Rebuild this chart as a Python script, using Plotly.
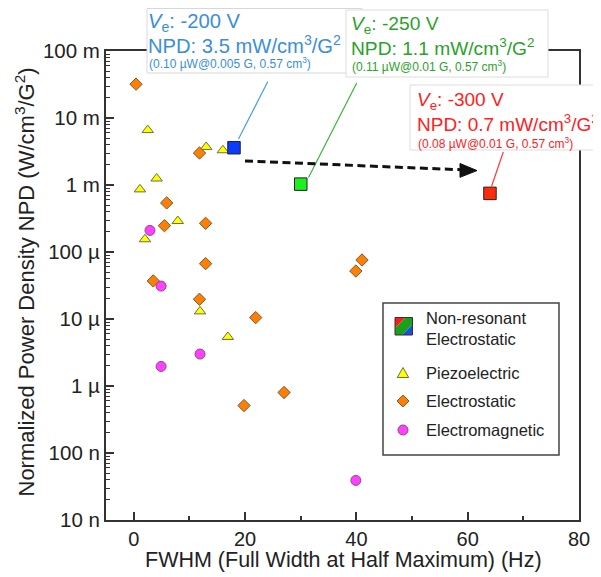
import plotly.graph_objects as go

# ---------------- data ----------------
piezo_x = [2.5, 13.0, 16.0, 4.1, 1.1, 7.9, 2.0, 11.9, 16.9]
piezo_y = [6.6e-3, 3.7e-3, 3.3e-3, 1.25e-3, 8.6e-4, 2.9e-4, 1.55e-4, 1.3e-5, 5.4e-6]

estat_x = [0.4, 5.9, 11.8, 5.5, 12.9, 12.9, 3.5, 11.8, 21.9, 27.0, 19.8, 41.0, 39.9]
estat_y = [3.2e-2, 5.4e-4, 3.0e-3, 2.47e-4, 2.68e-4, 6.7e-5, 3.7e-5, 1.97e-5, 1.05e-5,
           8.0e-7, 5.1e-7, 7.6e-5, 5.2e-5]

emag_x = [2.9, 4.9, 11.9, 4.9, 39.9]
emag_y = [2.1e-4, 3.1e-5, 3.0e-6, 1.96e-6, 3.9e-8]

nonres_x = [18.0, 30.0, 64.0]
nonres_y = [3.6e-3, 1.03e-3, 7.5e-4]
nonres_colors = ["#0A3CFF", "#1EF01E", "#FF2A0A"]

ytick_vals = [1e-8, 1e-7, 1e-6, 1e-5, 1e-4, 1e-3, 1e-2, 1e-1]
ytick_text = ["10 n", "100 n", "1 µ", "10 µ", "100 µ", "1 m", "10 m", "100 m"]
xtick_vals = [0, 20, 40, 60, 80]
xminor_vals = [10, 30, 50, 70]

legend_labels = ["Non-resonant<br>Electrostatic", "Piezoelectric", "Electrostatic", "Electromagnetic"]

x_title = "FWHM (Full Width at Half Maximum) (Hz)"
y_title = "Normalized Power Density NPD (W/cm<sup>3</sup>/G<sup>2</sup>)"

# ---------------- layout geometry (window pixels) ----------------
WIN_W, WIN_H = 601, 577
OFF = 8                      # default page margin around the plot div
FW, FH = WIN_W - OFF, WIN_H - OFF
L, R, T, B = 106, 579, 51, 520
PW, PH = R - L, B - T


def px(x):
    return (x - L) / PW


def py(y):
    return (B - y) / PH


def path(points):
    s = "M " + " L ".join(f"{px(a):.5f},{py(b):.5f}" for a, b in points) + " Z"
    return s


FONT = "Liberation Sans, Arial, Helvetica, sans-serif"
TXT = "#222222"

fig = go.Figure()

fig.add_trace(go.Scatter(
    x=piezo_x, y=piezo_y, mode="markers", name="Piezoelectric",
    marker=dict(symbol="triangle-up", size=10, color="#FFFF00",
                line=dict(color="#6E6E40", width=1)),
    showlegend=False))
fig.add_trace(go.Scatter(
    x=estat_x, y=estat_y, mode="markers", name="Electrostatic",
    marker=dict(symbol="diamond", size=9.5, color="#FF7F00",
                line=dict(color="#7A5A3A", width=1)),
    showlegend=False))
fig.add_trace(go.Scatter(
    x=emag_x, y=emag_y, mode="markers", name="Electromagnetic",
    marker=dict(symbol="circle", size=10, color="#FF40FF",
                line=dict(color="#8A4A8A", width=1)),
    showlegend=False))
fig.add_trace(go.Scatter(
    x=nonres_x, y=nonres_y, mode="markers", name="Non-resonant Electrostatic",
    marker=dict(symbol="square", size=12.5, color=nonres_colors,
                line=dict(color="#222222", width=1)),
    showlegend=False))

shapes = []
annotations = []

# leader lines
shapes.append(dict(type="line", xref="paper", yref="paper",
                   x0=px(267.7), y0=py(81.7), x1=px(238.5), y1=py(139),
                   line=dict(color="#4A9FE0", width=1.2), layer="above"))
shapes.append(dict(type="line", xref="paper", yref="paper",
                   x0=px(356.7), y0=py(83), x1=px(308.5), y1=py(177.5),
                   line=dict(color="#3DB23D", width=1.2), layer="above"))
shapes.append(dict(type="line", xref="paper", yref="paper",
                   x0=px(503.3), y0=py(152), x1=px(491.5), y1=py(186.5),
                   line=dict(color="#FF3A3A", width=1.2), layer="above"))

# dashed arrow
shapes.append(dict(type="line", xref="paper", yref="paper",
                   x0=px(245), y0=py(161), x1=px(462), y1=py(169.8),
                   line=dict(color="#111111", width=3, dash="8px,4.5px"), layer="above"))
shapes.append(dict(type="path", xref="paper", yref="paper",
                   path=path([(477, 170.6), (460, 163.5), (460, 177.3)]),
                   fillcolor="#111111", line=dict(color="#111111", width=1), layer="above"))

# annotation boxes
shapes.append(dict(type="rect", xref="paper", yref="paper",
                   x0=px(147), x1=px(362), y0=py(73), y1=py(8.5),
                   fillcolor="white", line=dict(color="#D8D8D8", width=1), layer="above"))
shapes.append(dict(type="rect", xref="paper", yref="paper",
                   x0=px(346), x1=px(548), y0=py(77), y1=py(10),
                   fillcolor="white", line=dict(color="#DDDDDD", width=1), layer="above"))
shapes.append(dict(type="rect", xref="paper", yref="paper",
                   x0=px(410), x1=px(603), y0=py(150), y1=py(85),
                   fillcolor="white", line=dict(color="#DDDDDD", width=1), layer="above"))

SMALL = 12


def add_box_text(x0, ys, color, big, ve, npd, small):
    annotations.append(dict(xref="paper", yref="paper", x=px(x0), y=py(ys[0]),
                            xanchor="left", yanchor="middle", showarrow=False,
                            text=f"<i>V</i><sub>e</sub>: {ve}",
                            font=dict(family=FONT, size=big, color=color)))
    annotations.append(dict(xref="paper", yref="paper", x=px(x0), y=py(ys[1]),
                            xanchor="left", yanchor="middle", showarrow=False,
                            text=f"NPD: {npd} mW/cm<sup>3</sup>/G<sup>2</sup>",
                            font=dict(family=FONT, size=big, color=color)))
    annotations.append(dict(xref="paper", yref="paper", x=px(x0 + 1), y=py(ys[2]),
                            xanchor="left", yanchor="middle", showarrow=False,
                            text=small,
                            font=dict(family=FONT, size=SMALL, color=color)))


add_box_text(146, (22.5, 45, 63), "#3A8EDC", 20.2, "-200 V", "3.5",
             "(0.10 µW@0.005 G, 0.57 cm<sup>3</sup>)")
add_box_text(349, (24.5, 47, 66), "#2AA12A", 19.2, "-250 V", "1.1",
             "(0.11 µW@0.01 G, 0.57 cm<sup>3</sup>)")
add_box_text(415, (101, 123.5, 142.5), "#FF2020", 19, "-300 V", "0.7",
             "(0.08 µW@0.01 G, 0.57 cm<sup>3</sup>)")

# ---------------- manual legend ----------------
shapes.append(dict(type="rect", xref="paper", yref="paper",
                   x0=px(383), x1=px(559), y0=py(455), y1=py(303),
                   fillcolor="white", line=dict(color="#444444", width=1.5), layer="above"))
# tri-colour square
sx0, sx1, sy0, sy1 = 395, 412.5, 317.5, 335
w, h = sx1 - sx0, sy1 - sy0
f = 0.6
shapes.append(dict(type="path", xref="paper", yref="paper",
                   path=path([(sx0, sy0), (sx0 + f * w, sy0), (sx0, sy0 + f * h)]),
                   fillcolor="#FF1A1A", line=dict(width=0), layer="above"))
shapes.append(dict(type="path", xref="paper", yref="paper",
                   path=path([(sx0 + f * w, sy0), (sx1, sy0), (sx1, sy1 - f * h),
                              (sx1 - f * w, sy1), (sx0, sy1), (sx0, sy0 + f * h)]),
                   fillcolor="#1AA01A", line=dict(width=0), layer="above"))
shapes.append(dict(type="path", xref="paper", yref="paper",
                   path=path([(sx1, sy1 - f * h), (sx1, sy1), (sx1 - f * w, sy1)]),
                   fillcolor="#1A50E0", line=dict(width=0), layer="above"))
shapes.append(dict(type="rect", xref="paper", yref="paper",
                   x0=px(sx0), x1=px(sx1), y0=py(sy1), y1=py(sy0),
                   line=dict(color="#333333", width=1), layer="above"))
# triangle
shapes.append(dict(type="path", xref="paper", yref="paper",
                   path=path([(397.3, 377.5), (408.7, 377.5), (403, 367.5)]),
                   fillcolor="#FFFF00", line=dict(color="#6E6E40", width=1), layer="above"))
# diamond
shapes.append(dict(type="path", xref="paper", yref="paper",
                   path=path([(403, 395), (409, 401), (403, 407), (397, 401)]),
                   fillcolor="#FF7F00", line=dict(color="#7A5A3A", width=1), layer="above"))
# circle
shapes.append(dict(type="circle", xref="paper", yref="paper",
                   x0=px(398), x1=px(408), y0=py(435), y1=py(425),
                   fillcolor="#FF40FF", line=dict(color="#8A4A8A", width=1), layer="above"))

leg_y = [328, 372.5, 401, 430]
for lab, yy in zip(legend_labels, leg_y):
    annotations.append(dict(xref="paper", yref="paper", x=px(424), y=py(yy),
                            xanchor="left", yanchor="middle", showarrow=False,
                            align="left", text=lab,
                            font=dict(family=FONT, size=16.5, color=TXT)))

# axis titles as annotations (placed like the reference)
annotations.append(dict(xref="paper", yref="paper", x=px(24), y=py(282.5),
                        xanchor="center", yanchor="middle", showarrow=False,
                        textangle=-90, text=y_title,
                        font=dict(family=FONT, size=22, color=TXT)))
annotations.append(dict(xref="paper", yref="paper", x=px(343), y=py(560),
                        xanchor="center", yanchor="middle", showarrow=False,
                        text=x_title,
                        font=dict(family=FONT, size=21.5, color=TXT)))

yminor = [k * 10 ** d for d in range(-8, -1) for k in range(2, 10)]

fig.update_layout(
    width=FW, height=FH,
    margin=dict(l=L - OFF, r=WIN_W - R, t=T - OFF, b=WIN_H - B, pad=0, autoexpand=False),
    paper_bgcolor="white", plot_bgcolor="white",
    font=dict(family=FONT, color=TXT),
    shapes=shapes, annotations=annotations,
    xaxis=dict(range=[-5, 80], tickvals=xtick_vals, ticks="inside", ticklen=8,
               tickwidth=1.5, tickcolor="#333333", showgrid=False, zeroline=False,
               showline=True, linecolor="#333333", linewidth=2, mirror=True,
               automargin=False,
               tickfont=dict(size=20, color=TXT),
               minor=dict(tickvals=xminor_vals, ticks="inside", ticklen=4,
                          tickwidth=1.5, tickcolor="#333333", showgrid=False)),
    yaxis=dict(type="log", range=[-8, -1], tickvals=ytick_vals, ticktext=ytick_text,
               ticks="inside", ticklen=8, tickwidth=1.5, tickcolor="#333333",
               showgrid=False, zeroline=False, showline=True, linecolor="#333333",
               linewidth=2, mirror=True, automargin=False,
               tickfont=dict(size=20.5, color=TXT),
               minor=dict(tickvals=yminor, ticks="inside", ticklen=4, tickwidth=1,
                          tickcolor="#333333", showgrid=False)),
)

fig.write_html("out.html")
